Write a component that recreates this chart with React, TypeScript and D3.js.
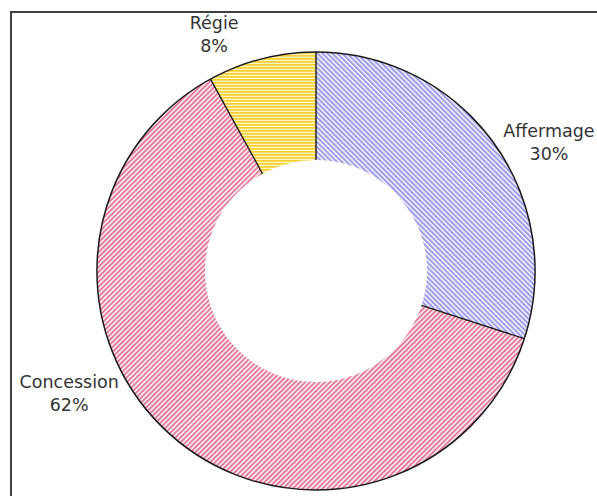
import React from "react";
import * as d3 from "d3";

// Shares of water service management modes
const categories = ["Affermage", "Concession", "Régie"];
const shares = [30, 62, 8];
const valueLabels = ["30%", "62%", "8%"];

// Label anchors in polar form (degrees clockwise from 12 o'clock, px from centre)
const labelAngles = [60, 244.7, 337.2];
const labelRadii = [269, 273, 263];

const W = 597;
const H = 496;
const cx = 316;
const cy = 271;
const outerR = 219;
const innerR = 111;

const patternIds = ["hatch-blue", "hatch-pink", "hatch-yellow"];

export default function App() {
  const pie = d3
    .pie<number>()
    .value((d) => d)
    .sort(null)
    .startAngle(0)
    .endAngle(2 * Math.PI);
  const arcs = pie(shares);
  const arcGen = d3.arc<d3.PieArcDatum<number>>().innerRadius(innerR).outerRadius(outerR);
  const outline = d3.arc()({ innerRadius: outerR, outerRadius: outerR, startAngle: 0, endAngle: 2 * Math.PI } as any) as string;

  const font = "'DejaVu Sans', Verdana, sans-serif";

  return (
    <svg
      width={W}
      height={H}
      style={{ position: "absolute", left: 0, top: 0, background: "#fff" }}
    >
      <defs>
        {/* downward diagonal */}
        <pattern id="hatch-blue" width="3.5" height="3.5" patternUnits="userSpaceOnUse" patternTransform="rotate(-45)">
          <rect width="3.5" height="3.5" fill="#f2f2fd" />
          <rect width="1.9" height="3.5" fill="#9c9ce8" />
        </pattern>
        {/* upward diagonal */}
        <pattern id="hatch-pink" width="3.5" height="3.5" patternUnits="userSpaceOnUse" patternTransform="rotate(45)">
          <rect width="3.5" height="3.5" fill="#fdf0f3" />
          <rect width="1.9" height="3.5" fill="#e27a99" />
        </pattern>
        {/* horizontal */}
        <pattern id="hatch-yellow" width="3" height="3" patternUnits="userSpaceOnUse">
          <rect width="3" height="3" fill="#fff6c8" />
          <rect width="3" height="1.7" fill="#f6d030" />
        </pattern>
      </defs>

      {/* frame */}
      <rect x={11} y={12} width={W + 20} height={H + 20} fill="none" stroke="#3f3f3f" strokeWidth={2} />

      <g transform={`translate(${cx},${cy})`}>
        {arcs.map((a, i) => (
          <path key={categories[i]} d={arcGen(a) as string} fill={`url(#${patternIds[i]})`} />
        ))}
        {/* slice separators */}
        {arcs.map((a, i) => (
          <line
            key={"sep" + i}
            x1={innerR * Math.sin(a.startAngle)}
            y1={-innerR * Math.cos(a.startAngle)}
            x2={outerR * Math.sin(a.startAngle)}
            y2={-outerR * Math.cos(a.startAngle)}
            stroke="#1a1a1a"
            strokeWidth={1.4}
          />
        ))}
        <path d={outline} fill="none" stroke="#1a1a1a" strokeWidth={1.5} />

        {categories.map((c, i) => {
          const t = (labelAngles[i] * Math.PI) / 180;
          const x = labelRadii[i] * Math.sin(t);
          const y = -labelRadii[i] * Math.cos(t);
          return (
            <text
              key={"lab" + c}
              x={x}
              y={y}
              textAnchor="middle"
              fontFamily={font}
              fontSize={17.5}
              fill="#333"
            >
              <tspan x={x}>{c}</tspan>
              <tspan x={x} dy={23}>
                {valueLabels[i]}
              </tspan>
            </text>
          );
        })}
      </g>
    </svg>
  );
}
